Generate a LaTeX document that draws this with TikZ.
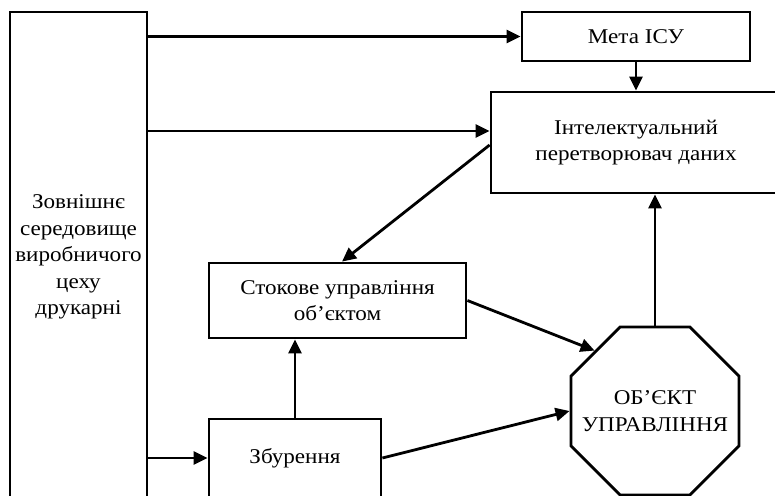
\documentclass[tikz,border=0pt]{standalone}
\usepackage{fontspec}
\setmainfont[FakeStretch=1.1]{Liberation Serif}
\usepackage{tikz}
\usetikzlibrary{shapes.geometric}
\usetikzlibrary{arrows.meta}

\begin{document}
\begin{tikzpicture}[
  x=1pt, y=-1pt,
  blockbox/.style={rectangle,draw,line width=2.8pt,align=center,inner sep=0pt,
    font=\fontsize{21}{26.5}\selectfont},
  objnode/.style={regular polygon,regular polygon sides=8,draw,line width=2.8pt,
    minimum size=182pt,inner sep=0pt},
  objtext/.style={align=center,inner sep=0pt,font=\fontsize{21}{26.5}\selectfont},
  arr/.style={line width=2.8pt,-{Triangle[length=14pt,width=13pt]}}
]
\useasboundingbox (0,0) rectangle (775,495);
\clip (0,0) rectangle (775,495);

% blocks
\node[blockbox,minimum width=137pt,minimum height=490pt] (env) at (78.5,257)
  {Зовнішнє\\середовище\\виробничого\\цеху\\друкарні};
\node[blockbox,minimum width=228pt,minimum height=49pt] (meta) at (636,36.5) {Мета ІСУ};
\node[blockbox,minimum width=290pt,minimum height=101pt] (intel) at (636,142.5)
  {Інтелектуальний\\перетворювач даних};
\node[blockbox,minimum width=257pt,minimum height=75pt] (stock) at (337.5,300.5)
  {Стокове управління\\об’єктом};
\node[blockbox,minimum width=172pt,minimum height=78pt] (zbur) at (295,458) {Збурення};
% octagon, its text set on top of it
\node[objnode] (obj) at (655,411) {};
\node[objtext] (objlabel) at (obj) {ОБ’ЄКТ\\УПРАВЛІННЯ};

% ends on the data block
\coordinate (intin) at ([yshift=11.5pt]intel.west);
\coordinate (intout) at ([yshift=-2.5pt]intel.west);
\coordinate (stockin) at ([xshift=4.5pt]stock.north);

% connectors
\draw[arr] (env.east |- meta.west) -- (meta.west);
\draw[arr] (env.east |- intin) -- (intin);
\draw[arr] (meta.south) -- (meta.south |- intel.north);
\draw[arr] (intout) -- (stockin);
\draw[arr] (zbur.north) -- (zbur.north |- stock.south);
\draw[arr] (env.east |- zbur.west) -- (zbur.west);
\draw[arr] (stock.east) -- (obj.135);
\draw[arr] (zbur.east) -- (obj.west);
\draw[arr] (obj.north) -- (obj.north |- intel.south);

\end{tikzpicture}
\end{document}
